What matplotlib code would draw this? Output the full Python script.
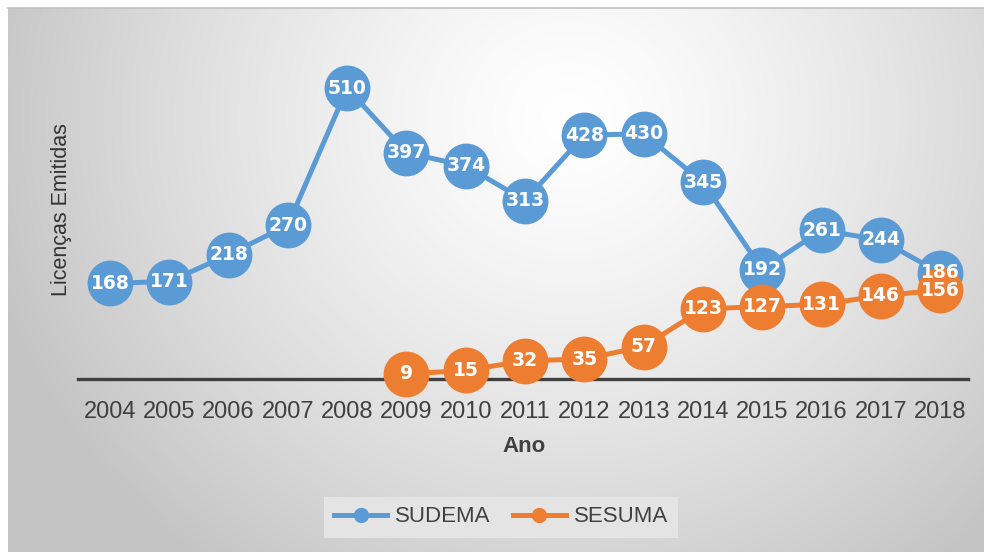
import matplotlib
matplotlib.use("Agg")
import matplotlib.pyplot as plt
import numpy as np
from matplotlib import font_manager
from matplotlib.lines import Line2D

YEARS = list(range(2004, 2019))
SUDEMA = [168, 171, 218, 270, 510, 397, 374, 313, 428, 430, 345, 192, 261, 244, 186]
SESUMA_YEARS = list(range(2009, 2019))
SESUMA = [9, 15, 32, 35, 57, 123, 127, 131, 146, 156]

BLUE = "#5b9bd5"
ORANGE = "#ed7d31"
TXT = "#404040"

W, H = 984, 552

# narrow bold font for the bubble labels, if there is one
try:
    font_manager.findfont("Liberation Sans Narrow", fallback_to_default=False)
    LBL_FONT = dict(family="Liberation Sans Narrow", fontsize=16, fontweight="bold")
except Exception:
    LBL_FONT = dict(family="DejaVu Sans", fontsize=13.5, fontweight="bold")

plt.rcParams["font.family"] = ["Liberation Sans", "DejaVu Sans"]

fig = plt.figure(figsize=(W / 100, H / 100), dpi=100, facecolor="white")

# --- radial grey background ---
bg = fig.add_axes([8 / W, 0, (W - 8) / W, (H - 8) / H], zorder=-10)
yy, xx = np.mgrid[0:544, 0:976]
d = np.sqrt(((xx - 560) / 600.0) ** 2 + ((yy - 110) / 560.0) ** 2)
shade = 1.0 - 0.23 * np.clip(d, 0, 1.0) ** 1.3
bg.imshow(np.dstack([shade] * 3), aspect="auto", extent=(0, 1, 0, 1), origin="upper")
bg.set_axis_off()
fig.add_artist(Line2D([8 / W, 1], [(H - 8) / H] * 2, color="#c0c0c0", lw=1.2))

# --- main plot ---
ax = fig.add_axes([78 / W, 173 / H, 890 / W, 342 / H])
ax.set_facecolor("none")
ax.plot(YEARS, SUDEMA, "-o", color=BLUE, lw=3.6, ms=32, mec=BLUE, label="SUDEMA",
        zorder=3, clip_on=False)
ax.plot(SESUMA_YEARS, SESUMA, "-o", color=ORANGE, lw=3.6, ms=32, mec=ORANGE, label="SESUMA",
        zorder=4, clip_on=False)
for x, v in zip(YEARS, SUDEMA):
    ax.annotate(str(v), (x, v), ha="center", va="center", color="white", zorder=5, **LBL_FONT)
for x, v in zip(SESUMA_YEARS, SESUMA):
    ax.annotate(str(v), (x, v), ha="center", va="center", color="white", zorder=6, **LBL_FONT)

ax.set_xlim(2003.46, 2018.47)
ax.set_ylim(0, 600)
for s in ("top", "right", "left"):
    ax.spines[s].set_visible(False)
ax.spines["bottom"].set_color(TXT)
ax.spines["bottom"].set_linewidth(2.4)
ax.spines["bottom"].set_zorder(2)
ax.set_yticks([])
ax.set_xticks(YEARS)
ax.tick_params(axis="x", length=0, pad=16, labelsize=17, labelcolor=TXT)

fig.text(524 / W, 1 - 446 / H, "Ano", ha="center", va="center", fontsize=16,
         fontweight="bold", color=TXT)
fig.text(62 / W, 1 - 210 / H, "Licenças Emitidas", ha="center", va="center",
         rotation=90, fontsize=15.5, color="#333333")

handles = [
    Line2D([], [], color=BLUE, lw=3.6, marker="o", ms=10),
    Line2D([], [], color=ORANGE, lw=3.6, marker="o", ms=10),
]
leg = fig.legend(handles, ["SUDEMA", "SESUMA"], loc="center", bbox_to_anchor=(501 / W, 35 / H),
                 ncol=2, frameon=True, fontsize=16, handlelength=2.4, handletextpad=0.35,
                 columnspacing=1.0, borderpad=0.45, fancybox=False, labelcolor=TXT)
leg.get_frame().set_facecolor("#e4e4e4")
leg.get_frame().set_edgecolor("none")
leg.get_frame().set_alpha(1)

fig.savefig("out.png", dpi=100)
